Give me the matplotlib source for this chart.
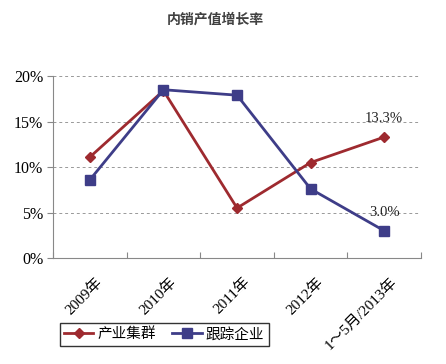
import matplotlib.pyplot as plt
from matplotlib.lines import Line2D

plt.rcParams['font.family'] = ['Liberation Serif', 'Noto Sans CJK SC']

categories = ['2009年', '2010年', '2011年', '2012年', '1～5月/2013年']
cluster = [11.1, 18.4, 5.5, 10.5, 13.3]
tracked = [8.6, 18.5, 17.9, 7.6, 3.0]
yticks = [0, 5, 10, 15, 20]

red = '#9E2A2F'
blue = '#3E3D88'

fig = plt.figure(figsize=(4.46, 3.64), dpi=100)
ax = fig.add_axes([0.119, 0.291, 0.825, 0.5])

x = list(range(len(categories)))
ax.plot(x, cluster, color=red, lw=2, marker='D', ms=5, zorder=3)
ax.plot(x, tracked, color=blue, lw=2, marker='s', ms=7, zorder=3)

ax.text(x[-1], cluster[-1] + 1.3, '13.3%', ha='center', va='bottom', fontsize=10.5, color='#222222')
ax.text(x[-1], tracked[-1] + 1.3, '3.0%', ha='center', va='bottom', fontsize=10.5, color='#222222')

ax.set_xlim(-0.5, len(categories) - 0.5)
ax.set_ylim(0, 20)
ax.set_yticks(yticks)
ax.set_yticklabels([f'{v}%' for v in yticks], fontsize=11.5)
ax.yaxis.grid(True, ls=(0, (3, 3)), color='#999999', lw=0.7)
ax.set_axisbelow(True)

ax.set_xticks([i - 0.5 for i in range(len(categories) + 1)], minor=False)
ax.set_xticklabels([])
ax.set_xticks([i + 0.08 for i in x], minor=True)
ax.set_xticklabels(categories, minor=True, rotation=45, ha='right', rotation_mode='anchor', fontsize=11)
ax.tick_params(axis='x', which='minor', length=0, pad=12)
ax.tick_params(axis='x', which='major', length=4, direction='in', color='#888888')
ax.tick_params(axis='y', length=4, direction='out', color='#888888', pad=3)

for s in ['top', 'right']:
    ax.spines[s].set_visible(False)
for s in ['left', 'bottom']:
    ax.spines[s].set_color('#888888')

fig.text(0.482, 0.945, '内销产值增长率', ha='center', va='center', fontsize=10,
         fontweight='bold', color='#404040', family=['Noto Sans CJK SC'])

handles = [Line2D([], [], color=red, lw=2, marker='D', ms=5),
           Line2D([], [], color=blue, lw=2, marker='s', ms=7)]
leg = fig.legend(handles, ['产业集群', '跟踪企业'], loc='lower left',
                 bbox_to_anchor=(0.118, 0.03), ncol=2, fancybox=False, frameon=True,
                 edgecolor='black', prop={'family': 'Noto Sans CJK SC', 'size': 10.5},
                 handlelength=2.0, columnspacing=1.1, borderpad=0.3, handletextpad=0.3)
leg.get_frame().set_linewidth(1)

fig.savefig('out.png', dpi=100)
